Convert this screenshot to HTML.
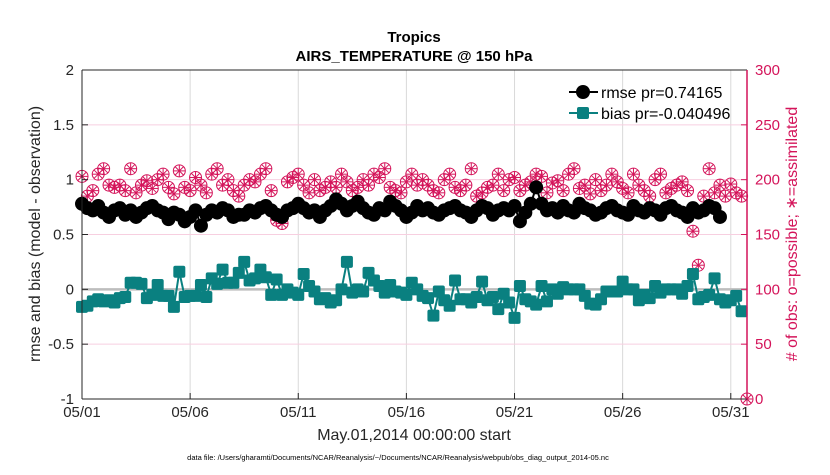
<!DOCTYPE html>
<html><head><meta charset="utf-8"><style>
body{margin:0;background:#fff;}
svg text{font-family:"Liberation Sans",sans-serif;}
</style></head><body>
<svg id="chart" width="830" height="470" viewBox="0 0 830 470">
<g id="grid"></g><g id="marks"></g><g id="axes"></g>
</svg>
<script>
const days = ["05/01","05/06","05/11","05/16","05/21","05/26","05/31"];
const dayOffsets = [0,5,10,15,20,25,30];
const leftTicks = [2,1.5,1,0.5,0,-0.5,-1];
const rightTicks = [300,250,200,150,100,50,0];
const rmse = [0.78,0.74,0.72,0.76,0.70,0.66,0.72,0.74,0.68,0.72,0.66,0.70,0.74,0.76,0.72,0.70,
0.64,0.70,0.68,0.62,0.66,0.72,0.58,0.68,0.72,0.70,0.74,0.72,0.66,0.68,0.68,0.72,
0.70,0.74,0.76,0.72,0.68,0.66,0.72,0.74,0.78,0.74,0.70,0.72,0.66,0.72,0.76,0.82,
0.78,0.72,0.76,0.80,0.74,0.70,0.68,0.74,0.72,0.80,0.76,0.72,0.66,0.70,0.76,0.72,
0.74,0.70,0.68,0.72,0.74,0.76,0.72,0.70,0.66,0.72,0.76,0.74,0.68,0.72,0.74,0.72,
0.76,0.62,0.70,0.78,0.93,0.78,0.72,0.74,0.70,0.76,0.72,0.70,
0.78,0.74,0.72,0.68,0.70,0.74,0.76,0.72,0.70,0.68,0.76,0.72,0.70,0.74,0.72,0.68,
0.74,0.76,0.72,0.70,0.66,0.74,0.70,0.72,0.76,0.74,0.66];
const bias = [-0.16,-0.15,-0.11,-0.09,-0.11,-0.10,-0.12,-0.08,-0.07,0.06,0.06,0.05,-0.08,-0.05,0.04,-0.06,
-0.06,-0.16,0.16,-0.07,-0.06,-0.06,0.04,-0.07,0.10,0.05,0.18,0.06,0.06,0.15,0.25,0.08,
0.10,0.18,0.11,-0.05,0.09,-0.05,0.00,-0.03,-0.05,0.14,0.03,-0.02,-0.09,-0.08,-0.12,-0.10,
0.00,0.25,-0.03,0.00,-0.02,0.15,0.08,0.03,-0.03,0.04,-0.02,-0.03,-0.05,0.06,0.00,-0.06,
-0.08,-0.24,-0.02,-0.10,-0.15,0.08,-0.09,-0.09,-0.12,-0.07,0.07,-0.10,-0.07,-0.18,-0.04,-0.12,
-0.26,0.03,-0.09,-0.11,-0.14,0.03,-0.11,0.00,-0.04,0.02,0.00,0.00,0.00,-0.06,-0.13,-0.14,
-0.09,-0.02,-0.02,-0.02,0.07,0.00,0.00,-0.10,-0.05,-0.08,0.03,-0.03,0.00,0.00,0.00,-0.04,
0.03,0.14,-0.09,-0.07,-0.05,0.10,-0.09,-0.12,-0.10,-0.06,-0.20];
const obs = [203,185,190,205,210,195,193,195,190,210,188,195,199,192,200,205,
193,187,208,193,190,202,195,188,205,210,195,200,190,185,195,200,
198,205,210,190,163,160,198,202,205,195,188,200,190,193,198,193,
205,198,190,193,200,195,205,202,210,193,190,188,198,205,195,200,
195,190,188,200,205,193,190,195,210,185,188,193,195,205,190,200,
202,190,195,198,205,203,188,197,199,190,205,210,192,195,187,200,
190,195,205,198,192,188,205,195,190,185,200,205,188,192,195,198,
190,153,122,185,210,188,195,185,196,188,185,0];
const xMin=0, xMax=30.75, X0=82, X1=747, Y0=70, Y1=399;
const NS="http://www.w3.org/2000/svg";
const xs=t=>X0+(t-xMin)/(xMax-xMin)*(X1-X0);
const yL=v=>Y1-(v+1)/3*(Y1-Y0);
const yR=v=>Y1-v/300*(Y1-Y0);
function mk(tag,attrs,parent,txt){const e=document.createElementNS(NS,tag);for(const k in attrs)e.setAttribute(k,attrs[k]);if(txt!==undefined)e.textContent=txt;parent.appendChild(e);return e;}
const grid=document.getElementById('grid'),marks=document.getElementById('marks'),axes=document.getElementById('axes');
const pink="#d4145a";
dayOffsets.forEach((d,i)=>{
 const l=mk('line',{x1:xs(d),x2:xs(d),y1:Y0,y2:Y1,stroke:'#d9d9d9','stroke-width':1},grid);
 
 
 const t=mk('text',{x:xs(d),y:417,'text-anchor':'middle','font-size':15,fill:'#262626'},axes,days[i]);
 
 
 mk('line',{x1:xs(d),x2:xs(d),y1:Y1,y2:Y1-6,stroke:'#262626'},axes);
});
rightTicks.forEach(v=>{
 if(v>0&&v<300){const l=mk('line',{x1:X0,x2:X1,y1:yR(v),y2:yR(v),stroke:'#f7cfe0','stroke-width':1},grid);
 
 }
 const t=mk('text',{x:X1+8,y:yR(v)+5,'font-size':15,fill:pink},axes,String(v));
 
 
 mk('line',{x1:X1,x2:X1-6,y1:yR(v),y2:yR(v),stroke:pink},axes);
});
leftTicks.forEach(v=>{
 const t=mk('text',{x:X0-8,y:yL(v)+5,'text-anchor':'end','font-size':15,fill:'#262626'},axes,String(v));
 
 
 mk('line',{x1:X0,x2:X0+6,y1:yL(v),y2:yL(v),stroke:'#262626'},axes);
});
const zl=mk('line',{x1:X0,x2:X1,y1:yL(0),y2:yL(0),stroke:'#bdbdbd','stroke-width':2.5},grid);


obs.forEach((v,i)=>{
 const cx=xs(i*0.25),cy=yR(v),r=6;
 const g=mk('g',{stroke:pink,'stroke-width':1,fill:'none'},marks);
 
 
 mk('circle',{cx:cx,cy:cy,r:r},g);
 for(let a=0;a<4;a++){const an=a*Math.PI/4;mk('line',{x1:cx-r*Math.cos(an),y1:cy-r*Math.sin(an),x2:cx+r*Math.cos(an),y2:cy+r*Math.sin(an)},g);}
});
let pr=rmse.map((v,i)=>xs(i*0.25)+','+yL(v)).join(' ');
const rl=mk('polyline',{points:pr,fill:'none',stroke:'#000','stroke-width':2},marks);


rmse.forEach((v,i)=>{const c=mk('circle',{cx:xs(i*0.25),cy:yL(v),r:7,fill:'#000'},marks);
 
 });
let pb=bias.map((v,i)=>xs(i*0.25)+','+yL(v)).join(' ');
const bl=mk('polyline',{points:pb,fill:'none',stroke:'#0a8080','stroke-width':2},marks);


bias.forEach((v,i)=>{const c=mk('rect',{x:xs(i*0.25)-6,y:yL(v)-6,width:12,height:12,rx:2,fill:'#0a8080'},marks);
 
 });
mk('line',{x1:X0,x2:X0,y1:Y0,y2:Y1,stroke:'#262626'},axes);
mk('line',{x1:X0,x2:X1,y1:Y1,y2:Y1,stroke:'#262626'},axes);
mk('line',{x1:X0,x2:X1,y1:Y0,y2:Y0,stroke:'#262626'},axes);
mk('line',{x1:X1,x2:X1,y1:Y0,y2:Y1,stroke:pink,'stroke-width':1.5},axes);
function txt(name,attrs,s){const t=mk('text',attrs,axes,s);return t;}
txt('title-line1',{x:414,y:42,'text-anchor':'middle','font-size':15,'font-weight':'bold',fill:'#000'},'Tropics');
txt('title-line2',{x:414,y:61,'text-anchor':'middle','font-size':15,'font-weight':'bold',fill:'#000'},'AIRS_TEMPERATURE @ 150 hPa');
txt('x-axis-title',{x:414,y:440,'text-anchor':'middle','font-size':16,fill:'#262626'},'May.01,2014 00:00:00 start');
txt('left-y-axis-title',{x:0,y:0,'text-anchor':'middle','font-size':16,fill:'#262626',transform:'translate(40,234) rotate(-90)'},'rmse and bias (model - observation)');
txt('right-y-axis-title',{x:0,y:0,'text-anchor':'middle','font-size':16,fill:pink,transform:'translate(797,234) rotate(-90)'},'# of obs: o=possible; \u2217=assimilated');
txt('data-file-note',{x:398,y:460,'text-anchor':'middle','font-size':7.5,fill:'#000'},'data file: /Users/gharamti/Documents/NCAR/Reanalysis/~/Documents/NCAR/Reanalysis/webpub/obs_diag_output_2014-05.nc');
const lg=mk('g',{},axes);
mk('line',{x1:569,x2:598,y1:92,y2:92,stroke:'#000','stroke-width':2},lg);
mk('circle',{cx:583,cy:92,r:7,fill:'#000'},lg);
const l1=mk('text',{x:601,y:98,'font-size':16,fill:'#000'},lg,'rmse pr=0.74165');
mk('line',{x1:569,x2:598,y1:113,y2:113,stroke:'#0a8080','stroke-width':2},lg);
mk('rect',{x:577,y:107,width:12,height:12,rx:2,fill:'#0a8080'},lg);
const l2=mk('text',{x:601,y:119,'font-size':16,fill:'#000'},lg,'bias pr=-0.040496');
</script>
</body></html>
